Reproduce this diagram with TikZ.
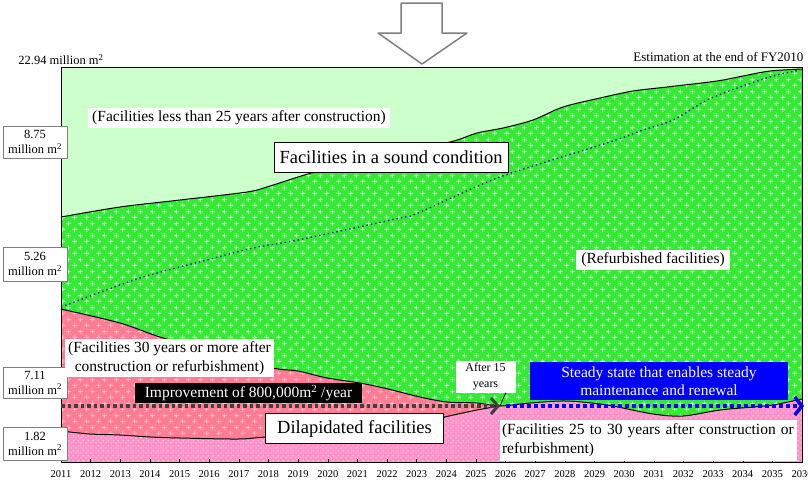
\documentclass[tikz,border=0pt]{standalone}
\usepackage{fontspec}
\setmainfont{Liberation Serif}
\usetikzlibrary{arrows.meta,patterns.meta}
\definecolor{youngarea}{RGB}{204,255,204}
\definecolor{soundarea}{RGB}{55,232,55}
\definecolor{dilaparea}{RGB}{255,125,148}
\definecolor{agingarea}{RGB}{255,145,200}
\definecolor{steadyblue}{RGB}{0,0,255}
\definecolor{navydot}{RGB}{25,25,160}
\tikzdeclarepattern{name=plusmarks,type=uncolored,bounding box={(0pt,0pt) and (12pt,12pt)},tile size={(12pt,12pt)},
  code={\draw[line width=.9pt] (0.5pt,3pt)--(5.5pt,3pt) (3pt,0.5pt)--(3pt,5.5pt) (6.5pt,9pt)--(11.5pt,9pt) (9pt,6.5pt)--(9pt,11.5pt);}}
\tikzdeclarepattern{name=smalldots,type=uncolored,bounding box={(0pt,0pt) and (5pt,5pt)},tile size={(5pt,5pt)},
  code={\fill (1.25pt,1.25pt) circle (.7pt) (3.75pt,3.75pt) circle (.7pt);}}
\begin{document}
\begin{tikzpicture}[x=1pt,y=-1pt,line join=round,font=\fontsize{15.5}{19}\selectfont,
  tag/.style={fill=white,inner sep=0pt,align=center},
  bigtag/.style={tag,draw=black,font=\fontsize{18.5}{21}\selectfont},
  axtag/.style={tag,draw=gray,minimum width=64pt,font=\fontsize{12.5}{15}\selectfont},
  yr/.style={font=\fontsize{10.5}{12}\selectfont},
  soundfill/.style={preaction={fill=soundarea},pattern=plusmarks,pattern color=white!85!soundarea},
  dilapfill/.style={preaction={fill=dilaparea},pattern=plusmarks,pattern color=dilaparea!45!white},
  agingfill/.style={preaction={fill=agingarea},pattern=smalldots,pattern color=white}]
\useasboundingbox (0,0) rectangle (808,483);
% hollow arrow on top
\draw[gray,line width=1.5pt] (401,3) -- (442,3) -- (442,33) -- (467,33) -- (422,64) -- (378,33) -- (401,33) -- cycle;
% areas
\fill[youngarea] (61,67) rectangle (802,462);
\path[soundfill] plot[smooth,tension=.5] coordinates {(61,217) (120,207) (180,200) (247,192) (270,186) (315,172) (380,157) (450,142) (477,133) (503,128) (533,120) (563,107) (600,98) (633,91) (667,87) (717,81) (743,76) (770,71) (802,69)} -- (802,462) -- (61,462) -- cycle;
\path[dilapfill] plot[smooth,tension=.5] coordinates {(61,309) (120,323) (163,338) (220,353) (273,368) (298,371) (327,378) (360,383) (388,389) (420,397) (447,402) (477,403) (500,406)}
  -- plot[smooth,tension=.5] coordinates {(500,406) (477,410) (445,417) (420,425) (360,432) (267,437) (238,439) (180,438) (150,437) (120,435) (90,434) (61,431)} -- cycle;
\path[agingfill] plot[smooth,tension=.5] coordinates {(61,431) (90,434) (120,435) (150,437) (180,438) (238,439) (267,437) (360,432) (420,425) (445,417) (477,410) (500,406) (530,403) (567,401) (607,405) (653,414) (683,416) (720,410) (753,407) (773,405) (802,399)} -- (802,462) -- (61,462) -- cycle;
% boundaries
\draw[line width=1pt] plot[smooth,tension=.5] coordinates {(61,217) (120,207) (180,200) (247,192) (270,186) (315,172) (380,157) (450,142) (477,133) (503,128) (533,120) (563,107) (600,98) (633,91) (667,87) (717,81) (743,76) (770,71) (802,69)};
\draw[line width=1pt] plot[smooth,tension=.5] coordinates {(61,309) (120,323) (163,338) (220,353) (273,368) (298,371) (327,378) (360,383) (388,389) (420,397) (447,402) (477,403) (500,406) (530,403) (567,401) (607,405) (653,414) (683,416) (720,410) (753,407) (773,405) (802,399)};
\draw[line width=1pt] plot[smooth,tension=.5] coordinates {(61,431) (90,434) (120,435) (150,437) (180,438) (238,439) (267,437) (360,432) (420,425) (445,417) (477,410) (500,406)};
\draw[navydot,line width=1.4pt,dash pattern=on 1.4pt off 3pt] plot[smooth,tension=.5] coordinates {(61,307) (140,278) (207,260) (253,248) (298,240) (400,218) (418,213) (500,177) (607,143) (643,130) (673,120) (707,100) (740,87) (773,76) (800,70)};
% frame and years
\draw[line width=1pt] (61,462) -- (61,67) -- (802,67) -- (802,462) -- cycle;
\foreach \i in {0,...,25}{
  \draw (61+29.64*\i,462) -- ++(0,-3);
  \pgfmathtruncatemacro\yy{2011+\i}
  \node[yr] (y\yy) at (61+29.64*\i,474) {\yy};
}
% labels
\node[font=\fontsize{12.5}{15}\selectfont] (lab2294) at (61,60) {22.94 million m\textsuperscript{2}};
\node[font=\fontsize{13}{15}\selectfont,anchor=east] (estim) at (807,57) {Estimation at the end of FY2010};
\node[axtag,minimum height=32pt] (lab875) at (35,142) {8.75\\million m\textsuperscript{2}};
\node[axtag,minimum height=34pt] (lab526) at (35,264) {5.26\\million m\textsuperscript{2}};
\node[axtag,minimum height=31pt] (lab711) at (35,382.5) {7.11\\million m\textsuperscript{2}};
\node[axtag,minimum height=33pt] (lab182) at (35,443.5) {1.82\\million m\textsuperscript{2}};
\node[tag,minimum width=302pt,minimum height=20pt] (less25) at (239,118) {(Facilities less than 25 years after construction)};
\node[bigtag,minimum width=234pt,minimum height=30pt] (soundcond) at (391,157) {Facilities in a sound condition};
\node[tag,minimum width=154pt,minimum height=20pt] (refurb) at (653,260) {(Refurbished facilities)};
\node[tag,minimum width=209pt,minimum height=38pt] (over30) at (169.5,358) {(Facilities 30 years or more after\\construction or refurbishment)};
\node[tag,fill=black,text=white,minimum width=227pt,minimum height=20pt] (improve) at (248.5,393) {Improvement of 800,000m\textsuperscript{2} /year};
\node[bigtag,minimum width=178pt,minimum height=30pt] (dilap) at (354.5,428.5) {Dilapidated facilities};
\node[tag,align=left,text width=293pt,inner xsep=2pt,minimum height=41pt] (mid2530) at (648.5,440.5) {(Facilities 25 to 30 years after construction or\\refurbishment)};
\node[tag,fill=steadyblue,text=white,minimum width=258pt,minimum height=38pt,font=\fontsize{15.5}{18.5}\selectfont] (steady) at (659,381) {Steady state that enables steady\\maintenance and renewal};
\node[tag,minimum width=60pt,minimum height=32pt,font=\fontsize{12}{16}\selectfont] (after15) at (485.5,376.6) {After 15\\years};
% arrows
\coordinate (gstart) at (61,406);
\coordinate (gtip) at (500,406);
\coordinate (bstart) at (506,406);
\coordinate (btip) at (804,406);
\draw[black!75,line width=3.5pt,dash pattern=on 3.5pt off 3pt,-{Straight Barb[length=7pt,width=16pt,line width=3pt]}] (gstart) -- (gtip);
\draw[steadyblue,line width=3.5pt,dash pattern=on 3.5pt off 3.5pt,-{Straight Barb[length=7pt,width=18pt,line width=3.5pt]}] (bstart) -- (btip);
\draw[line width=.8pt] ([xshift=-10pt]after15.south east) -- (gtip);
\end{tikzpicture}
\end{document}
